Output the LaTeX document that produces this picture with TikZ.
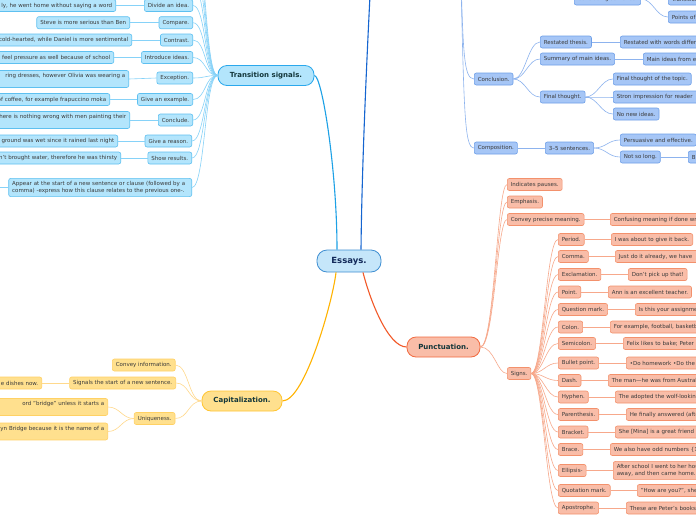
\documentclass[tikz,border=0pt]{standalone}
\usepackage{fontspec}
\setmainfont{DejaVu Sans}
\usetikzlibrary{calc}
\definecolor{tfill}{HTML}{B3E5FC}
\definecolor{tdraw}{HTML}{5EC0F0}
\definecolor{tmaindraw}{HTML}{2AA8EC}
\definecolor{tline}{HTML}{86D2F8}
\definecolor{tmain}{HTML}{1DA1E6}
\definecolor{cfill}{HTML}{FFE08E}
\definecolor{cdraw}{HTML}{FFD164}
\definecolor{cmaindraw}{HTML}{FFC531}
\definecolor{cline}{HTML}{FFD98C}
\definecolor{cmain}{HTML}{FFB300}
\definecolor{pfill}{HTML}{F9BDA8}
\definecolor{pdraw}{HTML}{F3916C}
\definecolor{pmaindraw}{HTML}{F26A3F}
\definecolor{pline}{HTML}{F7A88B}
\definecolor{pmain}{HTML}{F25A2A}
\definecolor{sfill}{HTML}{A6C6F6}
\definecolor{sdraw}{HTML}{6E9FE8}
\definecolor{sline}{HTML}{8DB3EE}
\definecolor{efill}{HTML}{C5E6FA}
\definecolor{edraw}{HTML}{3F8FD2}
\definecolor{emain}{HTML}{1565D0}
\definecolor{txtc}{HTML}{3A3A3A}
\definecolor{maintxt}{HTML}{12363A}
\definecolor{etxt}{HTML}{132A5A}
\begin{document}
\begin{tikzpicture}[x=1pt,y=-1pt,
  base/.style={rounded corners=2pt, line width=0.6pt, font=\fontsize{5.5}{6.8}\selectfont, text=txtc, inner xsep=3.5pt, inner ysep=1.5pt, minimum height=12pt},
  tbox/.style={base, fill=tfill, draw=tdraw},
  cbox/.style={base, fill=cfill, draw=cdraw},
  pbox/.style={base, fill=pfill, draw=pdraw},
  sbox/.style={base, fill=sfill, draw=sdraw},
  lcut/.style={anchor=east, text width=#1, align=right},
  rcut/.style={anchor=west, text width=#1, align=left},
  twoline/.style={inner ysep=3pt},
  mainbox/.style={rounded corners=9pt, line width=0.8pt, font=\fontsize{7}{8.4}\selectfont\bfseries, minimum height=20pt, text=maintxt},
  tl/.style={draw=tline, line width=0.6pt},
  cl/.style={draw=cline, line width=0.6pt},
  pl/.style={draw=pline, line width=0.6pt},
  sl/.style={draw=sline, line width=0.6pt},
  tw/.style={controls=+(-12,0) and +(12,0)}
]
\useasboundingbox (0,0) rectangle (696,520);
\clip (0,0) rectangle (696,520);
\fill[white] (0,0) rectangle (696,520);

% ---------- central ----------
\node[mainbox, font=\fontsize{8.5}{10}\selectfont\bfseries, text=etxt, fill=efill, draw=edraw, minimum width=64pt, minimum height=22pt, rounded corners=10pt] (ess) at (349,261) {Essays.};

% ---------- Transition signals ----------
\node[mainbox, fill=tfill, draw=tmaindraw, minimum width=96pt] (trans) at (266,75.5) {Transition signals.};
\node[tbox, anchor=east] (t1) at (193,5.5) {Divide an idea.};
\node[tbox, lcut=200pt] (t1e) at (116,5.5) {ly, he went home without saying a word};
\node[tbox, anchor=east] (t2) at (193,22.7) {Compare.};
\node[tbox, anchor=east] (t2e) at (130,22.7) {Steve is more serious than Ben};
\node[tbox, anchor=east] (t3) at (193,40) {Contrast.};
\node[tbox, lcut=200pt] (t3e) at (132,40) {cold-hearted, while Daniel is more sentimental};
\node[tbox, anchor=east] (t4) at (193,57.5) {Introduce ideas.};
\node[tbox, lcut=200pt] (t4e) at (114,57.5) {feel pressure as well because of school};
\node[tbox, anchor=east] (t5) at (193,78) {Exception.};
\node[tbox, twoline, lcut=200pt] (t5e) at (129,79) {ring dresses, however Olivia was wearing a\\\mbox{}};
\node[tbox, anchor=east] (t6) at (193,99.5) {Give an example.};
\node[tbox, lcut=200pt] (t6e) at (110,99.5) {of coffee, for example frapuccino moka};
\node[tbox, anchor=east] (t7) at (193,120) {Conclude.};
\node[tbox, twoline, lcut=200pt] (t7e) at (130,120) {here is nothing wrong with men painting their\\\mbox{}};
\node[tbox, anchor=east] (t8) at (192,141) {Give a reason.};
\node[tbox, lcut=200pt] (t8e) at (118,141) {ground was wet since it rained last night};
\node[tbox, anchor=east] (t9) at (192,158) {Show results.};
\node[tbox, lcut=200pt] (t9e) at (121,158) {n't brought water, therefore he was thirsty};
\node[tbox, twoline, anchor=east, text width=176pt, align=left] (tn) at (192,187.5) {Appear at the start of a new sentence or clause (followed by a\\comma) -express how this clause relates to the previous one-.};

\coordinate (tu1) at (193,-14);
\coordinate (tu2) at (193,-32);
\coordinate (tu3) at (193,-50);
\coordinate (tu4) at (193,-68);
\coordinate (tnl) at (-20,187.5);
\foreach \n in {t1,t2,t3,t4,t5,t6,t7,t8,t9,tn}
  \draw[tl] (trans.west) .. controls +(-13,0) and +(13,0) .. (\n.east);
\foreach \n in {tu1,tu2,tu3,tu4}
  \draw[tl] (trans.west) .. controls +(-13,0) and +(13,0) .. (\n);
\foreach \n in {t1,t2,t3,t4,t5,t6,t7,t8,t9}
  \draw[tl] (\n.west) -- (\n e.east);
\draw[tl] (tn.west) -- (tnl);
\draw[tmain, line width=1.1pt] ($(ess.north)+(-12,0)$) .. controls (337,170) and (322,75.5) .. (trans.east);

% ---------- Capitalization ----------
\node[mainbox, fill=cfill, draw=cmaindraw, minimum width=80pt] (cap) at (242,401) {Capitalization.};
\node[cbox, anchor=east] (c1) at (175.5,365) {Convey information.};
\node[cbox, anchor=east] (c2) at (176,383) {Signals the start of a new sentence.};
\node[cbox, lcut=120pt] (c2e) at (42,383) {e dishes now.};
\node[cbox, anchor=east] (c3) at (175.3,418.5) {Uniqueness.};
\node[cbox, twoline, lcut=200pt] (c3a) at (108,407) {ord "bridge" unless it starts a\\\mbox{}};
\node[cbox, twoline, lcut=200pt] (c3b) at (108,431.5) {yn Bridge because it is the name of a\\\mbox{}};
\foreach \n in {c1,c2,c3}
  \draw[cl] (cap.west) .. controls +(-13,0) and +(13,0) .. (\n.east);
\draw[cl] (c2.west) -- (c2e.east);
\draw[cl] (c3.west) .. controls +(-12,0) and +(12,0) .. (c3a.east);
\draw[cl] (c3.west) .. controls +(-12,0) and +(12,0) .. (c3b.east);
\draw[cmain, line width=1.1pt] ($(ess.south)+(-13,0)$) .. controls (333,300) and (305,401) .. (cap.east);

% ---------- Punctuation ----------
\node[mainbox, fill=pfill, draw=pmaindraw, minimum width=73pt] (pun) at (443.5,347) {Punctuation.};
\node[pbox, anchor=west] (p1) at (507,184.5) {Indicates pauses.};
\node[pbox, anchor=west] (p2) at (507,202) {Emphasis.};
\node[pbox, anchor=west] (p3) at (507,219.5) {Convey precise meaning.};
\node[pbox, rcut=150pt] (p3e) at (610,219.5) {Confusing meaning if done wrong};
\node[pbox, anchor=west] (p4) at (507,373.5) {Signs.};
\foreach \n in {p1,p2,p3,p4}
  \draw[pl] (pun.east) .. controls +(14,0) and +(-10,0) .. (\n.west);
\draw[pl] (p3.east) -- (p3e.west);
\draw[pmain, line width=1.1pt] ($(ess.south)+(14,0)$) .. controls (370,300) and (388,347) .. (pun.west);

\node[pbox, anchor=west] (g1) at (558,239.5) {Period.};
\node[pbox, anchor=west] (g1e) at (611,239.5) {I was about to give it back.};
\node[pbox, anchor=west] (g2) at (558,256.5) {Comma.};
\node[pbox, rcut=150pt] (g2e) at (615,256.5) {Just do it already, we have};
\node[pbox, anchor=west] (g3) at (558,274.5) {Exclamation.};
\node[pbox, anchor=west] (g3e) at (628,274.5) {Don't pick up that!};
\node[pbox, anchor=west] (g4) at (558,292) {Point.};
\node[pbox, anchor=west] (g4e) at (608,292) {Ann is an excellent teacher.};
\node[pbox, anchor=west] (g5) at (558,309.5) {Question mark.};
\node[pbox, rcut=150pt] (g5e) at (635,309.5) {Is this your assignment};
\node[pbox, anchor=west] (g6) at (558,327) {Colon.};
\node[pbox, rcut=150pt] (g6e) at (610,327) {For example, football, basketball};
\node[pbox, anchor=west] (g7) at (558,343.5) {Semicolon.};
\node[pbox, rcut=150pt] (g7e) at (623,343.5) {Felix likes to bake; Peter};
\node[pbox, anchor=west] (g8) at (558,363) {Bullet point.};
\node[pbox, rcut=150pt] (g8e) at (626,363) {•Do homework •Do the};
\node[pbox, anchor=west] (g9) at (558,380.5) {Dash.};
\node[pbox, rcut=150pt] (g9e) at (608,380.5) {The man—he was from Australia};
\node[pbox, anchor=west] (g10) at (558,397) {Hyphen.};
\node[pbox, rcut=150pt] (g10e) at (615,397) {The adopted the wolf-looking};
\node[pbox, anchor=west] (g11) at (558,414.5) {Parenthesis.};
\node[pbox, rcut=150pt] (g11e) at (626,414.5) {He finally answered (after};
\node[pbox, anchor=west] (g12) at (558,432) {Bracket.};
\node[pbox, rcut=150pt] (g12e) at (615,432) {She [Mina] is a great friend};
\node[pbox, anchor=west] (g13) at (558,449.5) {Brace.};
\node[pbox, rcut=150pt] (g13e) at (610,449.5) {We also have odd numbers \{1, 3};
\node[pbox, anchor=west] (g14) at (558,470.5) {Ellipsis-};
\node[pbox, twoline, rcut=150pt] (g14e) at (613,470.5) {After school I went to her house\\away, and then came home.};
\node[pbox, anchor=west] (g15) at (558,490.5) {Quotation mark.};
\node[pbox, rcut=150pt] (g15e) at (637,490.5) {"How are you?", she};
\node[pbox, anchor=west] (g16) at (558,508) {Apostrophe.};
\node[pbox, rcut=150pt] (g16e) at (626,508) {These are Peter's books};
\foreach \i in {1,...,16}{
  \draw[pl] (p4.east) .. controls +(12,0) and +(-12,0) .. (g\i.west);
  \draw[pl] (g\i.east) -- (g\i e.west);
}

% ---------- Structure (right, blue) ----------
\coordinate (sp) at (460,-60);
\node[sbox, anchor=west] (conc) at (474,79) {Conclusion.};
\node[sbox, anchor=west] (r1) at (540,42) {Restated thesis.};
\node[sbox, rcut=150pt] (r1e) at (620,42) {Restated with words different};
\node[sbox, anchor=west] (r2) at (540,59) {Summary of main ideas.};
\node[sbox, rcut=150pt] (r2e) at (643,59) {Main ideas from each};
\node[sbox, anchor=west] (r3) at (540,97) {Final thought.};
\node[sbox, anchor=west] (r3a) at (613,79) {Final thought of the topic.};
\node[sbox, rcut=150pt] (r3b) at (613,97) {Stron impression for reader};
\node[sbox, anchor=west] (r3c) at (613,114) {No new ideas.};
\node[sbox, anchor=west] (comp) at (474,148) {Composition.};
\node[sbox, anchor=west] (k1) at (545,148) {3--5 sentences.};
\node[sbox, anchor=west] (k1a) at (620,140) {Persuasive and effective.};
\node[sbox, anchor=west] (k1b) at (620,157) {Not so long.};
\node[sbox, rcut=150pt] (k1be) at (688,157) {B};
\node[sbox, anchor=west] (cs) at (574,-1) {Concluding sentence.};
\node[sbox, rcut=150pt] (cs1) at (668,-1) {Transition};
\node[sbox, rcut=150pt] (cs2) at (668,17) {Points of};

\draw[sl] (sp) .. controls (463,50) and (463,79) .. (conc.west);
\draw[sl] (sp) .. controls (464,110) and (464,148) .. (comp.west);
\foreach \n in {r1,r2,r3}
  \draw[sl] (conc.east) .. controls +(12,0) and +(-12,0) .. (\n.west);
\draw[sl] (r1.east) -- (r1e.west);
\draw[sl] (r2.east) -- (r2e.west);
\foreach \n in {r3a,r3b,r3c}
  \draw[sl] (r3.east) .. controls +(12,0) and +(-12,0) .. (\n.west);
\draw[sl] (comp.east) -- (k1.west);
\foreach \n in {k1a,k1b}
  \draw[sl] (k1.east) .. controls +(12,0) and +(-12,0) .. (\n.west);
\draw[sl] (k1b.east) -- (k1be.west);
\foreach \n in {cs1,cs2}
  \draw[sl] (cs.east) .. controls +(12,0) and +(-12,0) .. (\n.west);

% dark blue branch leaving the top
\coordinate (topb) at (374,-80);
\draw[emain, line width=1.1pt] ($(ess.north)+(12,0)$) .. controls (362,150) and (369,10) .. (topb);
\end{tikzpicture}
\end{document}
